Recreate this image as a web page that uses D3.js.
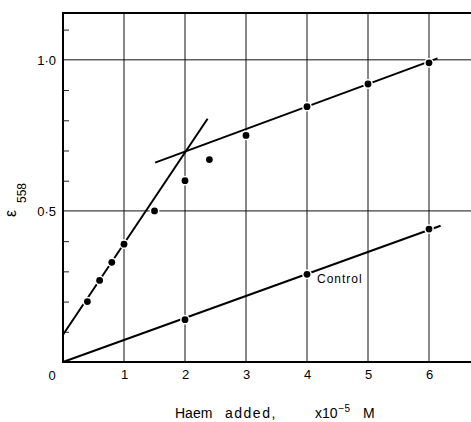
<!DOCTYPE html>
<html>
<head>
<meta charset="utf-8">
<script src="https://cdn.jsdelivr.net/npm/d3@7"></script>
<style>
  body { margin: 0; background: #fff; }
  svg { display: block; font-family: 'Liberation Sans', 'DejaVu Sans', sans-serif; }
  .grid { stroke: #111; stroke-width: 1; }
  .fit { stroke: #000; stroke-width: 2; fill: none; }
</style>
</head>
<body>
<svg id="chart" width="471" height="422"></svg>
<script>
// haem added (x10^-5 M) vs extinction at 558
const haemX = [0.4, 0.6, 0.8, 1.0, 1.5, 2.0, 2.4, 3.0, 4.0, 5.0, 6.0]
const haemY = [0.20, 0.27, 0.33, 0.39, 0.50, 0.60, 0.67, 0.75, 0.845, 0.92, 0.99]
const controlX = [2, 4, 6]
const controlY = [0.14, 0.29, 0.44]

// hand-drawn straight lines, endpoints
const steepLine = [[0, 0.09], [2.37, 0.805]]
const upperLine = [[1.51, 0.66], [6.14, 1.005]]
const controlLine = [[0, 0], [6.19, 0.451]]

const xTicks = [1, 2, 3, 4, 5, 6]
const yLabelTicks = [0.5, 1.0]
const yMinorTicks = [0.1, 0.2, 0.3, 0.4, 0.6, 0.7, 0.8, 0.9, 1.1]

const svg = d3.select('#chart')
const x = d3.scaleLinear().domain([0, 7]).range([63, 490])
const y = d3.scaleLinear().domain([0, 1.155]).range([362, 13])
const fmt = v => d3.format('.1f')(v).replace('.', '·')

// grid
svg.append('g').selectAll('line').data(xTicks).join('line')
  .attr('class', 'grid')
  .attr('x1', d => x(d)).attr('x2', d => x(d))
  .attr('y1', y(0)).attr('y2', y(1.155))
svg.append('g').selectAll('line').data(yLabelTicks).join('line')
  .attr('class', 'grid')
  .attr('x1', x(0)).attr('x2', x(7))
  .attr('y1', d => y(d)).attr('y2', d => y(d))

// frame
svg.append('rect')
  .attr('x', x(0)).attr('y', y(1.155))
  .attr('width', x(7) - x(0)).attr('height', y(0) - y(1.155))
  .attr('fill', 'none').attr('stroke', '#000').attr('stroke-width', 2)

// minor ticks pointing inward
svg.append('g').attr('transform', `translate(${x(0)},0)`)
  .call(d3.axisLeft(y).tickValues(yMinorTicks).tickSize(-6).tickFormat(''))
  .call(g => g.select('.domain').remove())
  .call(g => g.selectAll('line').attr('stroke', '#222'))

// y labels
svg.append('g').attr('transform', `translate(${x(0)},0)`)
  .call(d3.axisLeft(y).tickValues(yLabelTicks).tickSize(0).tickPadding(7).tickFormat(fmt))
  .call(g => g.select('.domain').remove())
  .call(g => g.selectAll('text').attr('font-size', 13).attr('font-family', null))

// x labels
svg.append('g').attr('transform', `translate(0,${y(0)})`)
  .call(d3.axisBottom(x).tickValues(xTicks).tickSize(0).tickPadding(8).tickFormat(d3.format('d')))
  .call(g => g.select('.domain').remove())
  .call(g => g.selectAll('text').attr('font-size', 13).attr('font-family', null))

svg.append('text').attr('x', 52).attr('y', 380)
  .attr('text-anchor', 'middle').attr('font-size', 13).text('0')

// fitted lines
const line = d3.line().x(d => x(d[0])).y(d => y(d[1]))
;[steepLine, upperLine, controlLine].forEach(l => {
  svg.append('path').attr('class', 'fit').attr('d', line(l))
})

// points, with white halo breaking lines like the original
const dots = (xs, ys) => svg.append('g').selectAll('circle').data(xs).join('circle')
  .attr('cx', d => x(d)).attr('cy', (d, i) => y(ys[i]))
  .attr('r', 3.4).attr('fill', '#000')
  .attr('stroke', '#fff').attr('stroke-width', 3).attr('paint-order', 'stroke')
dots(haemX, haemY)
dots(controlX, controlY)

svg.append('text').attr('x', 317).attr('y', 283)
  .attr('font-size', 12).attr('letter-spacing', 1).text('Control')

// axis titles
const yt = svg.append('text').attr('transform', 'translate(16,217) rotate(-90)')
yt.append('tspan').attr('x', 0).attr('y', 0).attr('font-size', 16).text('ε')
yt.append('tspan').attr('x', 14).attr('y', 10).attr('font-size', 12).text('558')

const xt = svg.append('text').attr('y', 418).attr('font-size', 14)
xt.append('tspan').attr('x', 175).text('Haem')
xt.append('tspan').attr('x', 225).attr('letter-spacing', 1.5).text('added,')
xt.append('tspan').attr('x', 315).text('x10')
xt.append('tspan').attr('dy', -6).attr('dx', 1).attr('font-size', 10).text('−5')
xt.append('tspan').attr('x', 363).attr('dy', 6).text('M')
</script>
</body>
</html>
